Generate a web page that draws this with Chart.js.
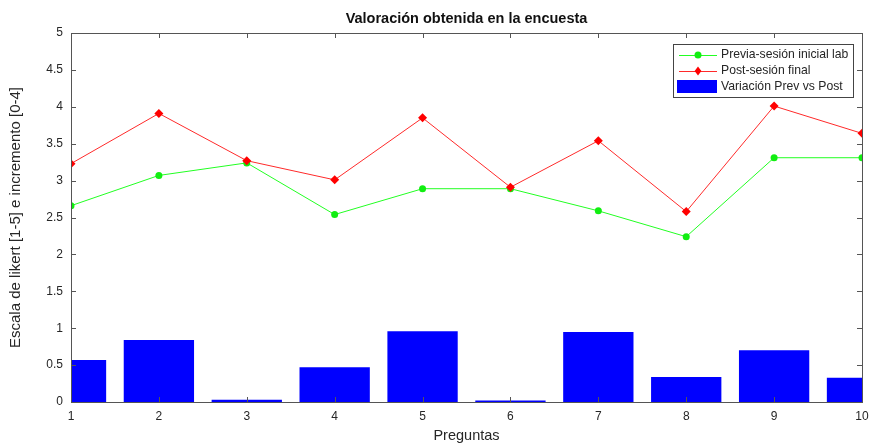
<!DOCTYPE html>
<html>
<head>
<meta charset="utf-8">
<script src="https://cdn.jsdelivr.net/npm/chart.js@4.4.0/dist/chart.umd.min.js"></script>
<style>
  html, body { margin: 0; padding: 0; background: #fff; }
  #wrap { width: 869px; height: 443px; }
</style>
</head>
<body>
<div id="wrap"><canvas id="chart" width="869" height="443"></canvas></div>
<script>
// datos
const preguntas = [1, 2, 3, 4, 5, 6, 7, 8, 9, 10];
const previa = [2.66, 3.07, 3.24, 2.54, 2.89, 2.89, 2.59, 2.24, 3.31, 3.31];
const post = [3.23, 3.91, 3.27, 3.01, 3.85, 2.91, 3.54, 2.58, 4.01, 3.64];
const variacion = [0.57, 0.84, 0.03, 0.47, 0.96, 0.02, 0.95, 0.34, 0.70, 0.33];
const yTicks = [0, 0.5, 1, 1.5, 2, 2.5, 3, 3.5, 4, 4.5, 5];

const FONT = "'Liberation Sans', Arial, sans-serif";
const AXIS_COLOR = '#262626';

const toXY = vals => preguntas.map((p, i) => ({ x: p, y: vals[i] }));

// caja tipo MATLAB con marcas hacia dentro
const boxPlugin = {
  id: 'boxPlugin',
  afterDatasetsDraw(chart) {
    const { ctx, chartArea: a, scales: { x, y } } = chart;
    ctx.save();
    ctx.strokeStyle = '#555';
    ctx.lineWidth = 1;
    ctx.strokeRect(a.left + 0.5, a.top + 0.5, a.right - a.left, a.bottom - a.top);
    ctx.beginPath();
    preguntas.forEach(p => {
      const px = Math.round(x.getPixelForValue(p)) + 0.5;
      ctx.moveTo(px, a.bottom); ctx.lineTo(px, a.bottom - 5);
      ctx.moveTo(px, a.top); ctx.lineTo(px, a.top + 5);
    });
    yTicks.forEach(t => {
      const py = Math.round(y.getPixelForValue(t)) + 0.5;
      ctx.moveTo(a.left, py); ctx.lineTo(a.left + 5, py);
      ctx.moveTo(a.right, py); ctx.lineTo(a.right - 5, py);
    });
    ctx.stroke();
    ctx.restore();
  }
};

// leyenda dentro del área, arriba a la derecha
const legendBox = {
  id: 'legendBox',
  afterDraw(chart) {
    const { ctx } = chart;
    const left = 673, top = 44, w = 180, h = 53;
    ctx.save();
    ctx.fillStyle = '#fff';
    ctx.fillRect(left, top, w, h);
    ctx.strokeStyle = '#444';
    ctx.lineWidth = 1;
    ctx.strokeRect(left + 0.5, top + 0.5, w, h);
    ctx.font = '12.2px ' + FONT;
    ctx.textBaseline = 'middle';
    const rows = [55, 71, 87];
    chart.data.datasets.forEach((ds, i) => {
      const cy = rows[i];
      if (ds.type === 'line') {
        ctx.strokeStyle = ds.borderColor;
        ctx.beginPath();
        ctx.moveTo(679, cy + 0.5); ctx.lineTo(717, cy + 0.5);
        ctx.stroke();
        ctx.fillStyle = ds.pointBackgroundColor;
        ctx.beginPath();
        if (ds.pointStyle === 'rectRot') {
          const r = 4.5;
          ctx.moveTo(698, cy - r); ctx.lineTo(698 + r * 0.75, cy);
          ctx.lineTo(698, cy + r); ctx.lineTo(698 - r * 0.75, cy);
          ctx.closePath();
        } else {
          ctx.arc(698, cy, 3.5, 0, Math.PI * 2);
        }
        ctx.fill();
      } else {
        ctx.fillStyle = ds.backgroundColor;
        ctx.fillRect(677, cy - 7, 40, 13);
      }
      ctx.fillStyle = AXIS_COLOR;
      ctx.fillText(ds.label, 721, cy);
    });
    ctx.restore();
  }
};

new Chart(document.getElementById('chart').getContext('2d'), {
  type: 'bar',
  data: {
    datasets: [
      {
        type: 'line',
        label: 'Previa-sesión inicial lab',
        data: toXY(previa),
        borderColor: '#22ff22',
        backgroundColor: '#22ff22',
        pointBackgroundColor: '#11ee11',
        pointBorderWidth: 0,
        pointStyle: 'circle',
        pointRadius: 3.5,
        borderWidth: 1,
        tension: 0,
        order: 2
      },
      {
        type: 'line',
        label: 'Post-sesión final',
        data: toXY(post),
        borderColor: '#ff2a2a',
        backgroundColor: '#ff0000',
        pointBackgroundColor: '#ff0000',
        pointBorderWidth: 0,
        pointStyle: 'rectRot',
        pointRadius: 4.5,
        borderWidth: 1,
        tension: 0,
        order: 1
      },
      {
        type: 'bar',
        label: 'Variación Prev vs Post',
        data: toXY(variacion),
        backgroundColor: '#0000ff',
        borderWidth: 0,
        categoryPercentage: 1,
        barPercentage: 0.8,
        clip: 0,
        order: 3
      }
    ]
  },
  options: {
    responsive: false,
    animation: false,
    layout: { padding: { left: 0, right: 0, top: 0, bottom: 0 } },
    plugins: {
      legend: { display: false },
      tooltip: { enabled: false },
      title: {
        display: true,
        fullSize: false,
        text: 'Valoración obtenida en la encuesta',
        color: '#111',
        font: { family: FONT, size: 14.5, weight: 'bold', lineHeight: 1.2 },
        padding: { top: 10, bottom: 5.6 }
      }
    },
    scales: {
      x: {
        type: 'linear',
        min: 1,
        max: 10,
        offset: false,
        grid: { display: false, drawTicks: false },
        border: { display: false },
        ticks: {
          stepSize: 1,
          padding: 7,
          color: AXIS_COLOR,
          font: { family: FONT, size: 12 },
          callback: v => String(v)
        },
        title: {
          display: true,
          text: 'Preguntas',
          color: AXIS_COLOR,
          font: { family: FONT, size: 14.5, lineHeight: 1 },
          padding: { top: 0, bottom: 0 }
        },
        afterFit: s => { s.height = 41; s.paddingRight = 7; s.paddingLeft = 0; }
      },
      y: {
        min: 0,
        max: 5,
        grid: { display: false, drawTicks: false },
        border: { display: false },
        ticks: {
          stepSize: 0.5,
          padding: 8,
          color: AXIS_COLOR,
          font: { family: FONT, size: 12 },
          callback: v => String(v)
        },
        title: {
          display: true,
          text: 'Escala de likert [1-5] e incremento [0-4]',
          color: AXIS_COLOR,
          font: { family: FONT, size: 15, lineHeight: 1.2 },
          padding: { top: 7, bottom: 0 }
        },
        afterFit: s => { s.width = 71; }
      }
    }
  },
  plugins: [boxPlugin, legendBox]
});
</script>
</body>
</html>
